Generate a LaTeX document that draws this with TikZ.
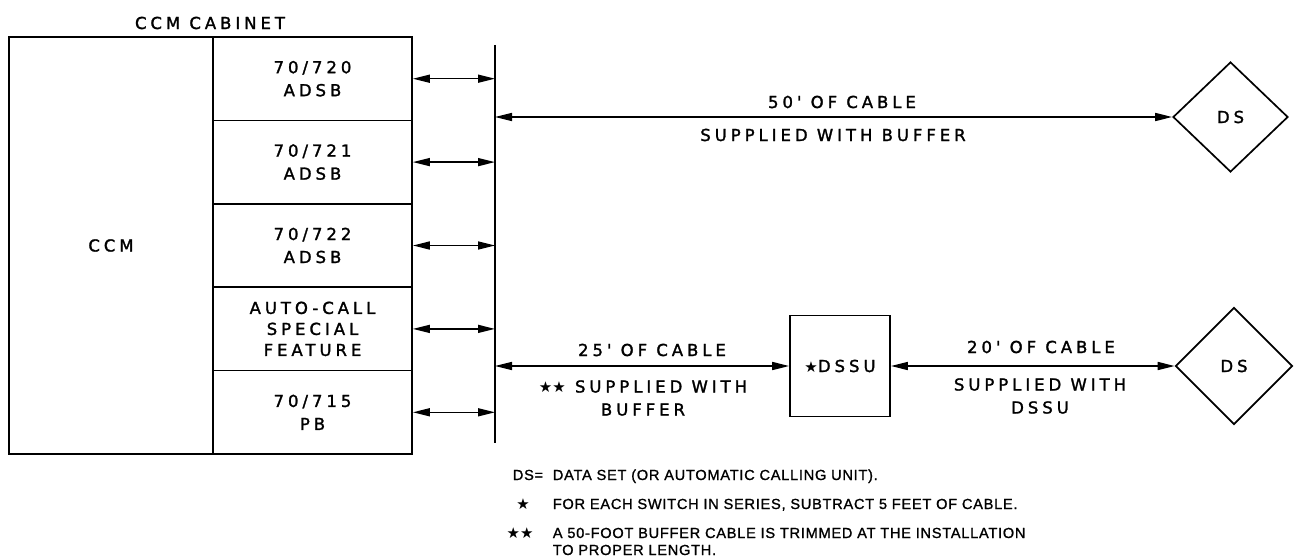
\documentclass[tikz,border=0pt]{standalone}
\usepackage{fontspec}
\newfontfamily\lab[LetterSpace=24,FakeBold=1.6]{DejaVu Sans}
\newfontfamily\notefont[LetterSpace=5,FakeBold=1.2]{Liberation Sans}
\newfontfamily\symf{DejaVu Sans}
\usetikzlibrary{arrows.meta,shapes.geometric}
\newcommand{\stx}{{\symf\fontsize{15}{15}\selectfont ★}}
\begin{document}
\begin{tikzpicture}[x=1pt,y=-1pt,
  line width=1.7pt,
  lbl/.style={font=\lab\fontsize{16.5}{23}\selectfont, align=center, inner sep=0},
  note/.style={font=\notefont\fontsize{14.6}{18}\selectfont, align=left, inner sep=0, anchor=base west},
  unit/.style={draw, rectangle, inner sep=0, minimum width=199pt, minimum height=83.4pt, font=\lab\fontsize{16.5}{23}\selectfont, align=center},
  dsnode/.style={draw, diamond, inner sep=0, font=\lab\fontsize{16.5}{23}\selectfont},
  conn/.style={{Triangle[length=17pt,width=8pt]}-{Triangle[length=17pt,width=8pt]}, line width=1.5pt},
]
\useasboundingbox (0,0) rectangle (1297,559);

% cabinet
\node[lbl] (cabinet) at (210,23) {CCM CABINET};
\node[draw, rectangle, inner sep=0, minimum width=204pt, minimum height=417pt, font=\lab\fontsize{16.5}{23}\selectfont] (ccm) at (111,245.5) {CCM};
\node[unit] (r1) at (312.5,78.7) {70/720\\ADSB};
\node[unit] (r2) at (312.5,162.1) {70/721\\ADSB};
\node[unit] (r3) at (312.5,245.5) {70/722\\ADSB};
\node[unit, font=\lab\fontsize{16.5}{21}\selectfont] (r4) at (312.5,328.9) {AUTO-CALL\\SPECIAL\\FEATURE};
\node[unit] (r5) at (312.5,412.3) {70/715\\PB};

% bus
\coordinate (bt) at (495,45);
\coordinate (bb) at (495,443);
\draw (bt) -- (bb);

\foreach \r in {r1,r2,r3,r4,r5}
  \draw[conn] (\r.east) -- (\r.east -| bt);

% top data set
\node[dsnode, minimum width=115pt, minimum height=110pt] (ds1) at (1230.5,117) {DS};
\draw[conn] (ds1.west -| bt) -- (ds1.west);
\node[lbl] (l50a) at (842,102) {50' OF CABLE};
\node[lbl] (l50b) at (833,135) {SUPPLIED WITH BUFFER};

% DSSU path
\node[draw, rectangle, inner sep=0, minimum width=100pt, minimum height=101pt, font=\lab\fontsize{16.5}{23}\selectfont] (dssu) at (840,366) {\stx DSSU};
\node[dsnode, minimum width=117pt, minimum height=117pt] (ds2) at (1234,366) {DS};
\draw[conn] (dssu.west -| bt) -- (dssu.west);
\draw[conn] (dssu.east) -- (ds2.west);
\node[lbl] (l25a) at (652,350) {25' OF CABLE};
\node[lbl] (l25b) at (643,398) {{\stx\stx} SUPPLIED WITH\\BUFFER};
\node[lbl] (l20a) at (1041,347) {20' OF CABLE};
\node[lbl] (l20b) at (1040,396) {SUPPLIED WITH\\DSSU};

% notes
\node[note] (n0) at (512,480) {DS=};
\node[note] (n1) at (552,480) {DATA SET (OR AUTOMATIC CALLING UNIT).};
\node[font=\symf\fontsize{15}{15}\selectfont, inner sep=0] (s1) at (523,504) {★};
\node[note] (n2) at (552,509) {FOR EACH SWITCH IN SERIES, SUBTRACT 5 FEET OF CABLE.};
\node[font=\symf\fontsize{15}{15}\selectfont, inner sep=0] (s2) at (520,533) {★★};
\node[note] (n3) at (552,538) {A 50-FOOT BUFFER CABLE IS TRIMMED AT THE INSTALLATION};
\node[note] (n4) at (552,555) {TO PROPER LENGTH.};
\end{tikzpicture}
\end{document}
